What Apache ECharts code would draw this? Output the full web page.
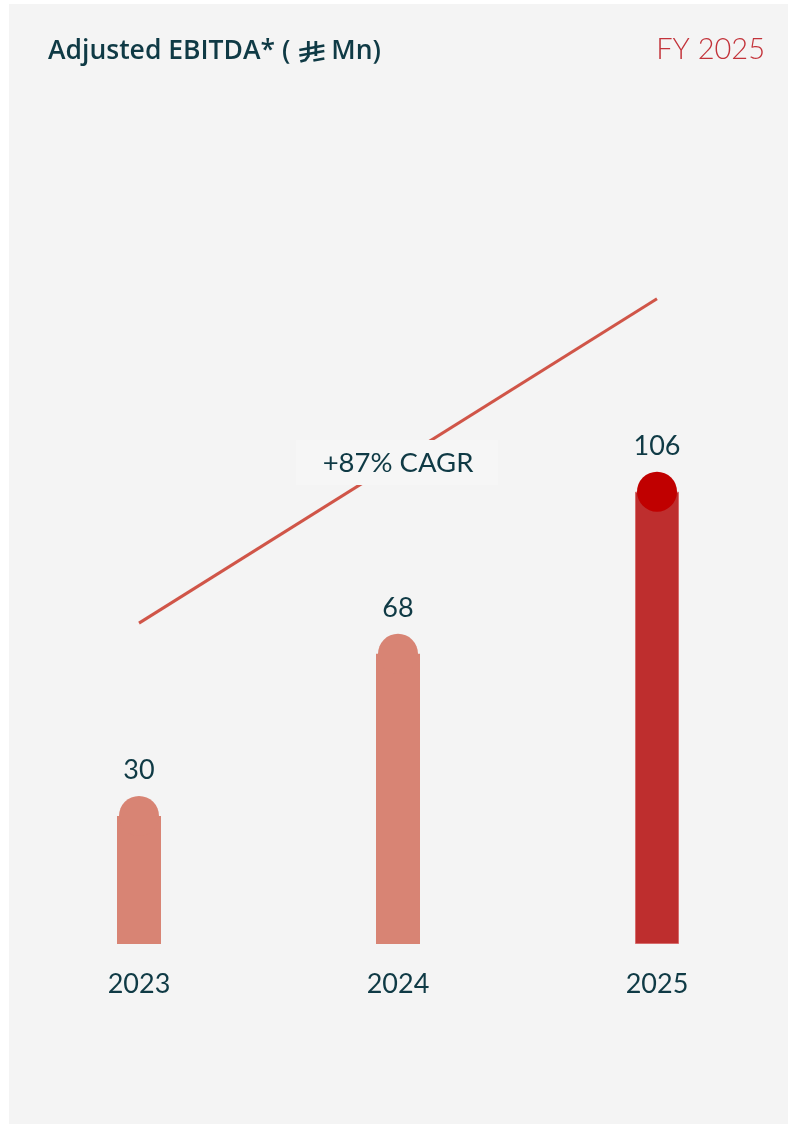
<!DOCTYPE html>
<html><head><meta charset="utf-8">
<script src="https://cdn.jsdelivr.net/npm/echarts@6/dist/echarts.min.js"></script>
<style>html,body{margin:0;padding:0;background:#fff}#c{width:794px;height:1124px}</style>
</head><body><div id="c"></div>
<script>
const categories = ['2023', '2024', '2025'];
const ebitda = [30, 68, 106];
const cagrTrend = [75.2, null, 151.2];
const titleText = 'Adjusted EBITDA* (';
const titleUnit = 'Mn)';
const periodText = 'FY 2025';
const cagrText = '+87% CAGR';

const FONT = 'Lato, "Open Sans", sans-serif';
const TFONT = '600 26.5px "Open Sans", sans-serif';
const TXT = '#0f3a45';
const barColors = ['#d88474', '#d88474', '#be2e2e'];
const capColors = ['#d88474', '#d88474', '#c00000'];

// measure title width to place the riyal sign right after it
const mctx = document.createElement('canvas').getContext('2d');
mctx.font = TFONT;
const tx0 = 48;
const tw = mctx.measureText(titleText).width;
const sx = tx0 + tw + 9;   // symbol left
const ux = sx + 32;        // unit text left

const chart = echarts.init(document.getElementById('c'), null, {renderer: 'canvas'});
chart.setOption({
  backgroundColor: 'transparent',
  animation: false,
  textStyle: {fontFamily: FONT},
  grid: {left: 9.5, right: 7.5, top: 261.3, bottom: 180},
  xAxis: {
    type: 'category', data: categories,
    axisLine: {show: false}, axisTick: {show: false}, splitLine: {show: false},
    axisLabel: {color: TXT, fontSize: 27, fontFamily: FONT, margin: 27}
  },
  yAxis: {type: 'value', min: 0, max: 160, show: false},
  series: [
    {
      type: 'line', data: cagrTrend, connectNulls: true, symbol: 'none', z: 1,
      lineStyle: {color: '#d05548', width: 3}
    },
    {
      type: 'bar', barWidth: 44, z: 2,
      data: ebitda.map((v, i) => ({value: v, itemStyle: {color: barColors[i],
        borderColor: i === 2 ? '#d66b6b' : barColors[i], borderWidth: i === 2 ? 1 : 0}}))
    },
    {
      type: 'scatter', symbol: 'circle', symbolSize: 40, z: 3,
      data: ebitda.map((v, i) => ({value: [i, v], itemStyle: {color: capColors[i], opacity: 1}})),
      label: {show: true, position: 'top', distance: 12, color: TXT, fontSize: 27, fontFamily: FONT,
        formatter: p => p.value[1]}
    }
  ],
  graphic: [
    {type: 'rect', z: -10, silent: true, shape: {x: 9, y: 4, width: 779, height: 1120}, style: {fill: '#f4f4f4'}},
    {type: 'text', z: 10, x: tx0, y: 51, style: {text: titleText, fill: TXT, font: TFONT, verticalAlign: 'middle'}},
    {type: 'text', z: 10, x: ux, y: 51, style: {text: titleUnit, fill: TXT, font: TFONT, verticalAlign: 'middle'}},
    {type: 'group', z: 10, x: sx, y: 0, children: [
      {type: 'polyline', shape: {points: [[9, 41], [9, 56], [6, 60], [1, 61.5]]}, style: {stroke: TXT, lineWidth: 2.8, fill: null}},
      {type: 'line', shape: {x1: 16.5, y1: 41, x2: 16.5, y2: 56}, style: {stroke: TXT, lineWidth: 2.8}},
      {type: 'line', shape: {x1: 0, y1: 50, x2: 25, y2: 45.5}, style: {stroke: TXT, lineWidth: 2.5}},
      {type: 'line', shape: {x1: 0, y1: 55.5, x2: 25, y2: 51}, style: {stroke: TXT, lineWidth: 2.5}},
      {type: 'line', shape: {x1: 14, y1: 60.5, x2: 25, y2: 58.5}, style: {stroke: TXT, lineWidth: 2.5}}
    ]},
    {type: 'text', z: 10, right: 29, top: 35, style: {text: periodText, fill: '#c3333a', font: '300 29px ' + FONT}},
    {type: 'rect', z: 10, shape: {x: 296, y: 440, width: 202, height: 45}, style: {fill: '#f6f6f6'}},
    {type: 'text', z: 11, x: 398, y: 463, style: {text: cagrText, fill: TXT, font: '400 27.5px ' + FONT, align: 'center', verticalAlign: 'middle'}}
  ]
});
</script></body></html>
